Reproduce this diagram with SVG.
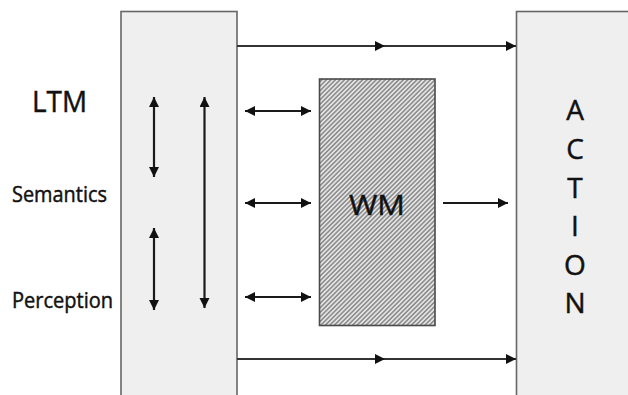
<svg xmlns="http://www.w3.org/2000/svg" width="628" height="395" viewBox="0 0 628 395">
  <defs>
    <pattern id="hatch" patternUnits="userSpaceOnUse" width="3.2" height="3.2" patternTransform="rotate(45)">
      <rect width="3.2" height="3.2" fill="#8e8e8e"/>
      <rect x="0" y="0" width="1.6" height="3.2" fill="#e4e4e4"/>
    </pattern>
    <marker id="ah" markerUnits="userSpaceOnUse" markerWidth="11" markerHeight="11" refX="10" refY="5" orient="auto-start-reverse">
      <path d="M0,0 L10,5 L0,10 Z" fill="#111"/>
    </marker>
    <marker id="am" markerUnits="userSpaceOnUse" markerWidth="11" markerHeight="11" refX="10" refY="5" orient="auto">
      <path d="M0,0 L10,5 L0,10 Z" fill="#111"/>
    </marker>
  </defs>
  <style>
    .box { fill: #efefef; stroke: #666; stroke-width: 1.6; }
    .wm { fill: url(#hatch); stroke: #4a4a4a; stroke-width: 1.6; }
    .ln { fill: none; stroke: #1a1a1a; stroke-width: 2.2; }
    .dbl { marker-start: url(#ah); marker-end: url(#ah); }
    .one { marker-end: url(#ah); }
    .flow { marker-mid: url(#am); marker-end: url(#ah); stroke: #333; }
    text { font-family: "Open Sans", "Liberation Sans", sans-serif; fill: #111; stroke: #111; stroke-width: 0.45; }
  </style>
  <rect width="628" height="395" fill="#ffffff"/>

  <g id="ltm">
    <rect class="box" x="121" y="11.5" width="116" height="400"/>
  </g>
  <g id="action">
    <rect class="box" x="516.5" y="11.5" width="130" height="400"/>
    <g text-anchor="middle" font-size="28">
      <text x="575" y="120">A</text>
      <text x="575" y="159">C</text>
      <text x="575" y="197.5">T</text>
      <text x="575" y="236">I</text>
      <text x="575" y="274.5">O</text>
      <text x="575" y="313">N</text>
    </g>
  </g>
  <g id="wm">
    <rect class="wm" x="319.5" y="79" width="115.5" height="246.5"/>
    <text x="377" y="215" font-size="28" text-anchor="middle" textLength="56" lengthAdjust="spacingAndGlyphs">WM</text>
  </g>
  <g id="labels">
    <text x="32" y="112" font-size="29" textLength="55" lengthAdjust="spacingAndGlyphs">LTM</text>
    <text x="12" y="201.5" font-size="21" textLength="95" lengthAdjust="spacingAndGlyphs">Semantics</text>
    <text x="12" y="308" font-size="21" textLength="101" lengthAdjust="spacingAndGlyphs">Perception</text>
  </g>

  <g id="connectors">
    <polyline class="ln flow" points="237,46 385,46 516,46"/>
    <polyline class="ln flow" points="237,359 385,359 516,359"/>
    <line class="ln dbl" x1="154" y1="97" x2="154" y2="177"/>
    <line class="ln dbl" x1="204.5" y1="97" x2="204.5" y2="308"/>
    <line class="ln dbl" x1="154" y1="228" x2="154" y2="310"/>
    <line class="ln dbl" x1="245" y1="111" x2="311" y2="111"/>
    <line class="ln dbl" x1="245" y1="203" x2="311" y2="203"/>
    <line class="ln dbl" x1="245" y1="297" x2="311" y2="297"/>
    <line class="ln one" x1="443" y1="203" x2="508" y2="203"/>
  </g>
</svg>
